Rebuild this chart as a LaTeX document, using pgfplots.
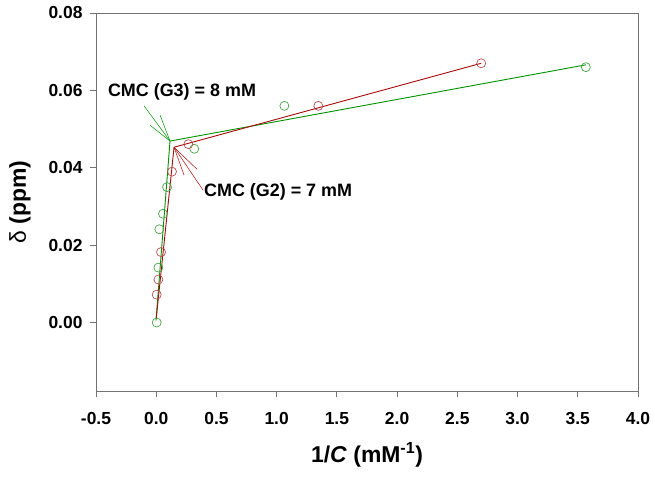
\documentclass[border=0pt]{standalone}
\usepackage{pgfplots}
\pgfplotsset{compat=1.18}
\usepackage{fontspec}
\setmainfont{Liberation Sans}
\definecolor{lgreen}{RGB}{0,145,0}
\definecolor{mgreen}{RGB}{70,165,70}
\definecolor{lred}{RGB}{165,10,10}
\definecolor{mred}{RGB}{185,80,80}
\definecolor{axgray}{RGB}{115,115,115}

\begin{document}
\begin{tikzpicture}
\begin{axis}[
    scale only axis,
    width=542bp, height=378bp,
    xmin=-0.5, xmax=4.0,
    ymin=-0.0177, ymax=0.08,
    xtick={-0.5,0,0.5,1,1.5,2,2.5,3,3.5,4},
    ytick={0,0.02,0.04,0.06,0.08},
    xtick pos=lower, ytick pos=left,
    tick align=outside,
    major tick length=6bp,
    axis line style={axgray, line width=0.8bp},
    every tick/.style={axgray, line width=0.8bp},
    /pgf/number format/assume math mode=true,
    ticklabel style={font=\fontsize{17.5}{20}\selectfont\bfseries},
    xticklabel style={yshift=-12bp, /pgf/number format/.cd, fixed, fixed zerofill, precision=1},
    yticklabel style={xshift=-4bp, /pgf/number format/.cd, fixed, fixed zerofill, precision=2},
    scaled y ticks=false,
    every axis x label/.style={at={(axis description cs:0.5,-0.1693)}, anchor=center,
        font=\fontsize{23}{26}\selectfont\bfseries},
    every axis y label/.style={at={(axis description cs:-0.1402,0.5)}, rotate=90, anchor=center,
        font=\fontsize{23}{26}\selectfont\bfseries},
    xlabel={1/\textit{C} (mM\textsuperscript{-1})},
    ylabel={{\mdseries δ} (ppm)},
]

% G3 (green)
\addplot[only marks, mark=o, mark size=4.5bp, mark options={mgreen, line width=0.7bp}]
  table {
  x      y
  0.004  0.0000
  0.018  0.0142
  0.026  0.0241
  0.056  0.0281
  0.090  0.0350
  0.316  0.0449
  1.064  0.0560
  3.567  0.0660
};
\addplot[lgreen, line width=0.9bp]
  table {
  x      y
  -0.002 0.0005
  0.1146 0.0469
  3.567  0.0666
};

% G2 (red)
\addplot[only marks, mark=o, mark size=4.5bp, mark options={mred, line width=0.7bp}]
  table {
  x      y
  0.004  0.0072
  0.018  0.0111
  0.040  0.0182
  0.131  0.0390
  0.267  0.0461
  1.346  0.0560
  2.698  0.0670
};
\addplot[lred, line width=0.9bp]
  table {
  x      y
  0.000  0.0010
  0.148  0.0453
  2.698  0.0670
};

% annotations
\draw[lgreen, line width=0.5bp] (axis cs:0.1146,0.0469) -- (axis cs:-0.101,0.0560);
\draw[lgreen, line width=0.5bp] (axis cs:0.1146,0.0469) -- (axis cs:0.032,0.0536);
\draw[lgreen, line width=0.5bp] (axis cs:0.1146,0.0469) -- (axis cs:-0.051,0.0510);
\draw[lred, line width=0.5bp] (axis cs:0.148,0.0453) -- (axis cs:0.389,0.0342);
\draw[lred, line width=0.5bp] (axis cs:0.148,0.0453) -- (axis cs:0.339,0.0396);
\draw[lred, line width=0.5bp] (axis cs:0.148,0.0453) -- (axis cs:0.231,0.0381);
\node[font=\fontsize{18}{20}\selectfont\bfseries] at (axis cs:0.214,0.0596) {CMC (G3) = 8 mM};
\node[font=\fontsize{18}{20}\selectfont\bfseries] at (axis cs:1.012,0.0337) {CMC (G2) = 7 mM};
\end{axis}
\pgfresetboundingbox
\useasboundingbox ([shift={(-96bp,-86bp)}]current axis.south west) rectangle ([shift={(17bp,13bp)}]current axis.north east);
\end{tikzpicture}
\end{document}
